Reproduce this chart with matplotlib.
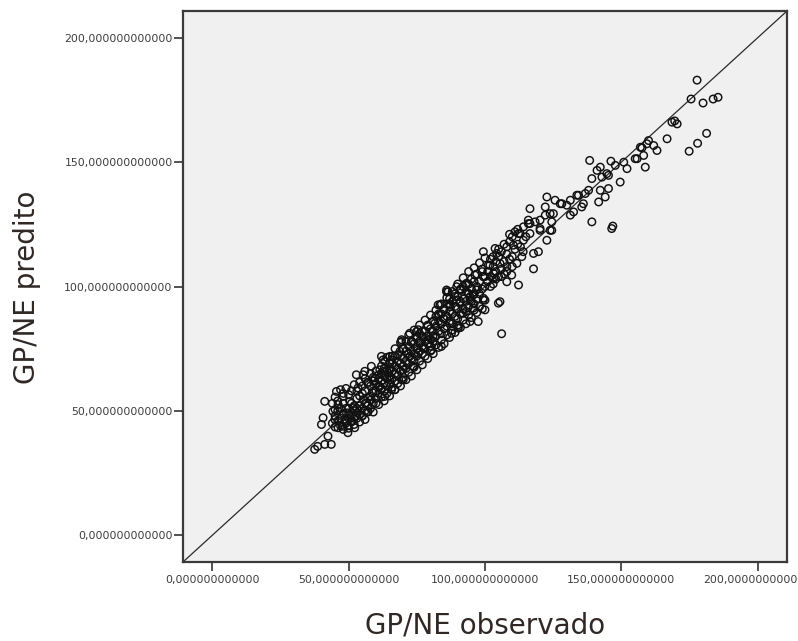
import numpy as np
import matplotlib
matplotlib.use('Agg')
import matplotlib.pyplot as plt

# GP/NE observado vs GP/NE predito
edge_pts = [
  (37.5,34.5),(38.6,35.7),(41.2,36.5),(43.6,36.5),(42.4,39.8),(40.0,44.5),(40.6,47.2),(41.2,53.8),
  (44.9,46.5),(46.1,43.2),(49.7,41.2),(52.2,43.2),(47.9,43.8),(45.5,57.8),(47.9,55.8),(50.4,53.8),
  (46.1,52.5),(52.8,64.5),(55.3,64.5),(58.3,67.9),(53.4,59.2),(56.5,53.2),(57.1,49.8),(54.0,48.5),
  (49.2,49.2),(44.2,49.8),(51.6,51.2),(48.5,45.8),(58.9,57.2),(61.4,59.8),(64.5,65.2),(66.9,58.5),
  (63.2,55.8),(70.0,62.5),(73.6,67.9),(65.1,69.2),(58.3,54.5),(55.3,54.5),(62.0,58.5),(65.7,58.5),
  (69.4,62.5),(62.0,71.9),(63.2,69.9),(65.7,70.5),(69.4,77.9),(72.4,81.2),(75.5,82.6),(75.5,73.2),
  (82.8,92.6),(86.5,97.9),(90.2,83.9),(84.0,75.9),(80.4,74.5),(79.1,78.6),(87.7,81.2),(55.9,65.9),
  (49.7,44.0),(45.0,50.5),
]
mid_pts = [
  (83.5,92.6),(85.9,97.9),(89.6,94.6),(94.5,95.9),(99.4,95.3),(100.0,90.6),(94.5,85.9),(97.5,85.9),
  (90.2,83.2),(87.1,85.2),(81.6,85.2),(84.7,87.2),(92.0,89.2),(80.9,79.9),(77.3,75.2),(74.9,81.9),
  (69.4,78.6),(76.1,77.2),(72.4,71.9),(68.8,73.9),(65.1,71.9),(62.6,70.5),(61.4,66.5),(65.1,66.5),
  (70.0,66.5),(73.6,67.9),(59.6,63.2),(65.1,62.5),(104.9,93.3),(106.1,81.0),
  (99.4,114.0),(101.8,108.6),(108.0,116.0),(112.3,121.3),(115.9,125.3),(120.2,123.3),(123.9,122.6),
  (122.7,118.6),(117.8,113.3),(113.5,112.0),(109.8,104.6),(112.3,100.6),(108.0,101.9),(117.8,107.1),
  (105.5,93.9),(85.9,98.6),(89.6,99.9),(93.2,101.3),(95.7,96.6),(90.8,93.3),(87.1,92.6),(95.7,91.3),
  (103.1,105.3),(105.5,109.3),(104.3,113.3),(110.4,116.6),(114.1,118.6),(111.7,109.3),(103.7,115.3),
  (96.3,104.6),(99.4,103.9),(93.9,97.3),(96.9,98.6),(103.1,103.3),(94.5,94.6),(99.4,94.6),(87.1,91.9),
  (116.5,125.3),(120.2,126.7),(119.6,114.0),(101.2,108.6),
]
upper_pts = [
  (116.5,131.3),(122.7,136.0),(125.7,134.7),(122.1,132.0),(123.9,129.3),(127.6,133.3),(130.0,132.7),
  (131.3,134.7),(133.7,136.7),(136.1,133.3),(131.3,128.7),(122.1,128.7),(125.1,129.3),(132.5,130.0),
  (135.5,132.0),(118.4,126.0),(124.5,126.0),(115.9,126.7),(114.1,124.0),(120.2,122.6),(124.5,122.6),
  (112.9,121.3),(116.5,121.3),(134.3,136.7),(128.2,133.3),(136.8,137.4),
  (138.4,150.7),(146.2,150.4),(142.3,148.0),(147.8,148.7),(152.1,147.4),(155.1,151.4),(158.2,152.7),
  (158.8,148.0),(157.0,156.0),(139.2,143.4),(142.9,144.0),(145.3,144.7),(149.6,142.0),(138.0,138.7),
  (142.3,138.7),(145.3,139.4),(141.7,134.0),(144.1,136.0),(139.2,126.0),(146.5,123.3),(146.9,124.3),
  (144.7,145.4),(141.1,146.7),
  (177.8,183.0),(175.6,175.4),(180.0,173.8),(183.7,175.4),(185.5,176.1),(168.6,166.1),(170.5,165.4),
  (169.6,166.6),(181.3,161.6),(178.0,157.6),(174.9,154.4),(166.8,159.4),(160.0,158.7),(161.9,156.7),
  (163.1,154.7),(157.6,155.8),(155.8,151.4),(150.9,150.0),(159.4,157.4),
]
core_pts = [
  (45,48),(46,50),(47,47),(47,51),(48,49),(48,53),(49,46),(49,51),(50,47),(50,49),(50,51),(51,46),
  (51,48),(51,53),(52,47),(52,50),(52,52),(53,48),(53,51),(53,55),(54,50),(54,52),(54,56),(55,48),
  (55,51),(55,57),(56,50),(56,53),(56,58),(57,52),(57,55),(57,61),
  (58,56),(58,60),(59,53),(59,58),(59,62),(60,55),(60,58),(60,61),(61,57),(61,60),(61,63),(62,59),
  (62,62),(62,65),(63,58),(63,61),(63,64),(63,67),(64,60),(64,63),(64,66),(65,61),(65,64),(65,67),
  (66,63),(66,66),(66,69),(67,62),(67,65),(67,68),(67,72),(68,64),(68,67),(68,70),(69,66),(69,69),
  (69,72),(70,68),(70,71),(70,75),
  (71,67),(71,70),(71,74),(72,69),(72,73),(72,76),(73,71),(73,74),(73,78),(74,70),(74,73),(74,77),
  (75,72),(75,75),(75,79),(76,74),(76,78),(76,81),(77,73),(77,76),(77,80),(78,75),(78,78),(78,82),
  (79,77),(79,80),(79,84),(80,76),(80,79),(80,83),(81,78),(81,82),(81,86),(82,80),(82,84),(82,88),
  (83,82),(83,86),(83,89),(84,81),(84,85),(84,89),(85,83),(85,87),(85,91),
  (86,84),(86,88),(86,93),(87,86),(87,90),(87,95),(88,85),(88,89),(88,94),(89,88),(89,92),(89,97),
  (90,87),(90,91),(90,96),(91,89),(91,94),(91,99),(92,91),(92,95),(92,100),(93,90),(93,94),(93,98),
  (94,92),(94,97),(94,101),(95,94),(95,99),(96,93),(96,97),(96,102),(97,95),(97,100),(98,97),(98,102),
  (99,99),(99,106),(100,100),(100,104),
  (101,102),(101,106),(102,104),(102,111),(103,101),(103,108),(104,106),(104,110),(105,104),(105,112),
  (106,107),(106,114),(107,105),(107,110),(108,108),(108,113),(109,111),(109,118),(110,112),(110,120),
  (111,115),(112,117),(112,123),
]
upper_edge_pts = [
  (44,53),(45,55.5),(46,54),(47,58.5),(48,57),(49,59),(50,56.5),(51,58),(52,60.5),(53,58),
  (54,61.5),(55,60),(56,63),(57,61.5),(58,65),(59,63.5),(60,66),(61,64.5),(62,68),(63,66),
  (64,71.5),(65,69),(66,72),(67,75),(68,72.5),(69,77.5),(70,75),(71,78),(72,80.5),(73,77.5),
  (74,82.5),(75,80),(76,84.5),(77,82),(78,86.5),(79,84.5),(80,88.5),(81,86),(82,90.5),(83,88.5),
  (84,93),(85,91),(86,95.5),(87,93),(88,98),(89,96),(90,101),(91,98.5),(92,103.5),(93,100.5),
  (94,106),(95,103),(96,107.5),(97,105),(98,109.5),(99,107),(100,111.5),
]
lower_edge_pts = [
  (44,45),(45,43.5),(46,46),(47,44),(48,42.5),(49,45),(50,43),(51,45.5),(52,44.5),(53,47),
  (54,45.5),(55,48),(56,46.5),(57,49.5),(58,51),(59,49.5),(60,53),(61,52.5),(62,55.5),(63,54),
  (64,57),(65,56),(66,59.5),(67,58.5),(68,61),(69,60),(70,63.5),(71,62.5),(72,65.5),(73,64),
  (74,67.5),(75,66.5),(76,70),(77,68.5),(78,72),(79,71),(80,74),(81,73),(82,76.5),(83,75.5),
  (84,78.5),(85,77),(86,80.5),(87,79.5),(88,82.5),(89,81.5),(90,84.5),(91,83.5),(92,86.5),(93,85),
  (94,88.5),(95,87.5),(96,90.5),(97,89.5),(98,92),(99,91),(100,94.5),
  (102,100),(103,112),(104,103),(105,115),(106,104),(107,117),(108,106),(109,121),(110,108),
  (111,122),(113,116),(114,114),(115,120),
]
ticks = [0, 50, 100, 150, 200]
lims = (-10.8, 210.8)

pts = np.array(edge_pts + mid_pts + upper_pts + core_pts + upper_edge_pts + lower_edge_pts)
observado = pts[:, 0]
predito = pts[:, 1]

fig = plt.figure(figsize=(7.98, 6.41), dpi=100)
ax = fig.add_axes([183/798, 79/641, 604/798, 551/641])
ax.set_facecolor('#f0f0f0')

ax.plot(lims, lims, color='#2a2a2a', lw=0.9, zorder=1)
ax.scatter(observado, predito, s=29, facecolors='none', edgecolors='#111111',
           linewidths=1.05, zorder=2)

ax.set_xlim(lims)
ax.set_ylim(lims)
ax.set_xticks(ticks)
ax.set_yticks(ticks)
fmt = lambda v: ('%.12f' % v).replace('.', ',')
ax.set_xticklabels([fmt(t) for t in ticks])
ax.set_yticklabels([fmt(t) for t in ticks])
ax.tick_params(axis='both', direction='out', length=6.5, width=1.2, color='#333333',
               labelsize=7.8, labelcolor='#3c3c3c')
ax.tick_params(axis='y', pad=1)
ax.tick_params(axis='x', pad=3)
for sp in ax.spines.values():
  sp.set_color('#3a3a3a')
  sp.set_linewidth(1.6)

fig.text(485/798, 1 - 625/641, 'GP/NE observado', ha='center', va='center',
         fontsize=20, family='DejaVu Sans', color='#2f2824')
fig.text(27/798, 1 - 287/641, 'GP/NE predito', ha='center', va='center', rotation=90,
         fontsize=20, family='DejaVu Sans', color='#2f2824')

fig.savefig('out.png', dpi=100)
